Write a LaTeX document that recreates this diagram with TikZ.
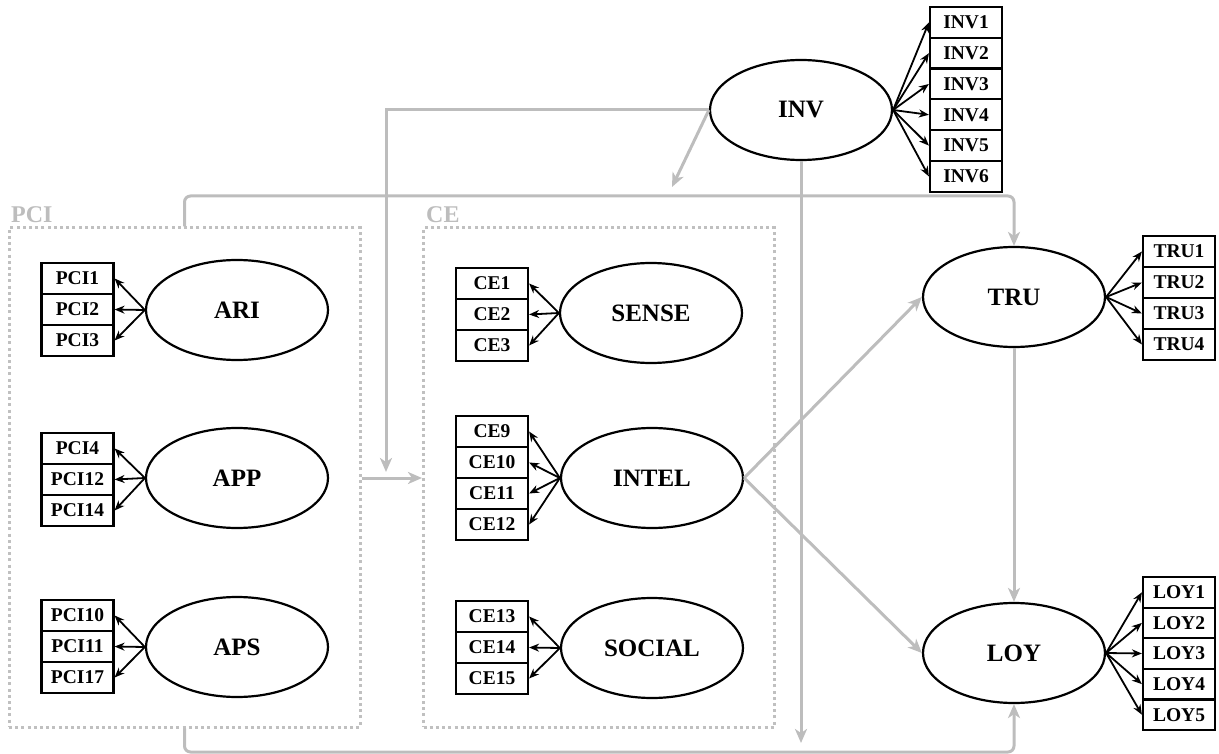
\documentclass[tikz,border=0pt]{standalone}
\usepackage{fontspec}
\setmainfont{Liberation Serif}
\usetikzlibrary{shapes.geometric,arrows.meta}
\definecolor{grayc}{HTML}{BDBDBD}
\definecolor{grayd}{HTML}{C0C0C0}
\begin{document}
\begin{tikzpicture}[x=1pt,y=-1pt,
 latent/.style={ellipse,draw,line width=2.2pt,minimum width=182pt,minimum height=100pt,inner sep=0pt,font=\fontsize{25}{28}\selectfont\bfseries},
 ind/.style={rectangle,draw,line width=2.2pt,minimum width=72pt,minimum height=31pt,inner sep=0pt,font=\fontsize{19.5}{21}\selectfont\bfseries},
 load/.style={line width=1.8pt,-{Stealth[length=10pt,width=8pt]}},
 gpath/.style={draw=grayc,line width=3pt,-{Stealth[length=14pt,width=12pt,inset=4pt]}},
 grp/.style={draw=grayd,line width=3pt,dash pattern=on 3pt off 3.2pt,minimum height=499pt,minimum width=351pt,inner sep=0pt},
 grplabel/.style={text=grayc,font=\fontsize{24}{26}\selectfont\bfseries,anchor=base west,inner sep=0pt}
]
\useasboundingbox (0,0) rectangle (1219,754);

% groups
\node[grp] (PCIbox) at (184.5,477.5) {};
\node[grp] (CEbox) at (599,477.5) {};
\node[grplabel] (PCIlab) at (11,223) {PCI};
\node[grplabel] (CElab) at (426,223) {CE};

% latent variables
\node[latent] (INV) at (801,110) {INV};
\node[latent] (ARI) at (237,310) {ARI};
\node[latent] (APP) at (237,478) {APP};
\node[latent] (APS) at (237,647) {APS};
\node[latent] (SENSE) at (651,313) {SENSE};
\node[latent] (INTEL) at (652,478) {INTEL};
\node[latent] (SOCIAL) at (652,648) {SOCIAL};
\node[latent] (TRU) at (1014,297) {TRU};
\node[latent] (LOY) at (1014,653) {LOY};

% indicators
\foreach \t [count=\i] in {PCI1,PCI2,PCI3}
  \node[ind] (\t) at (77.5,{263+15.5+31*(\i-1)}) {\t};
\foreach \t [count=\i] in {PCI4,PCI12,PCI14}
  \node[ind] (\t) at (77.5,{433+15.5+31*(\i-1)}) {\t};
\foreach \t [count=\i] in {PCI10,PCI11,PCI17}
  \node[ind] (\t) at (77.5,{600+15.5+31*(\i-1)}) {\t};
\foreach \t [count=\i] in {CE1,CE2,CE3}
  \node[ind] (\t) at (492,{268+15.5+31*(\i-1)}) {\t};
\foreach \t [count=\i] in {CE9,CE10,CE11,CE12}
  \node[ind] (\t) at (492,{416+15.5+31*(\i-1)}) {\t};
\foreach \t [count=\i] in {CE13,CE14,CE15}
  \node[ind] (\t) at (492,{601+15.5+31*(\i-1)}) {\t};
\foreach \t [count=\i] in {INV1,INV2,INV3,INV4,INV5,INV6}
  \node[ind,minimum height=30.8pt] (\t) at (966,{7+15.4+30.8*(\i-1)}) {\t};
\foreach \t [count=\i] in {TRU1,TRU2,TRU3,TRU4}
  \node[ind] (\t) at (1179,{236+15.5+31*(\i-1)}) {\t};
\foreach \t [count=\i] in {LOY1,LOY2,LOY3,LOY4,LOY5}
  \node[ind,minimum height=30.6pt] (\t) at (1179,{577+15.3+30.6*(\i-1)}) {\t};

% loadings
\foreach \t in {PCI1,PCI2,PCI3} \draw[load] (ARI.west) -- (\t.east);
\foreach \t in {PCI4,PCI12,PCI14} \draw[load] (APP.west) -- (\t.east);
\foreach \t in {PCI10,PCI11,PCI17} \draw[load] (APS.west) -- (\t.east);
\foreach \t in {CE1,CE2,CE3} \draw[load] (SENSE.west) -- (\t.east);
\foreach \t in {CE9,CE10,CE11,CE12} \draw[load] (INTEL.west) -- (\t.east);
\foreach \t in {CE13,CE14,CE15} \draw[load] (SOCIAL.west) -- (\t.east);
\foreach \t in {INV1,INV2,INV3,INV4,INV5,INV6} \draw[load] (INV.east) -- (\t.west);
\foreach \t in {TRU1,TRU2,TRU3,TRU4} \draw[load] (TRU.east) -- (\t.west);
\foreach \t in {LOY1,LOY2,LOY3,LOY4,LOY5} \draw[load] (LOY.east) -- (\t.west);

% structural paths
\coordinate (ceTop) at (386,472);
\coordinate (midEnd) at (672,187);
\coordinate (invEnd) at (801,743);
\coordinate (topR) at (1014,196);
\coordinate (botR) at (1014,752);
\draw[gpath] (INV.west) -| (ceTop);
\draw[gpath] (INV.west) -- (midEnd);
\draw[gpath] (INV.south) -- (invEnd);
\draw[gpath,rounded corners=6pt] (PCIbox.north) |- (topR) -- (TRU.north);
\draw[gpath,rounded corners=6pt] (PCIbox.south) |- (botR) -- (LOY.south);
\draw[gpath] (PCIbox.east |- APP) -- (CEbox.west |- APP);
\draw[gpath] (INTEL.east) -- (TRU.west);
\draw[gpath] (INTEL.east) -- (LOY.west);
\draw[gpath] (TRU.south) -- (LOY.north);
\end{tikzpicture}
\end{document}
